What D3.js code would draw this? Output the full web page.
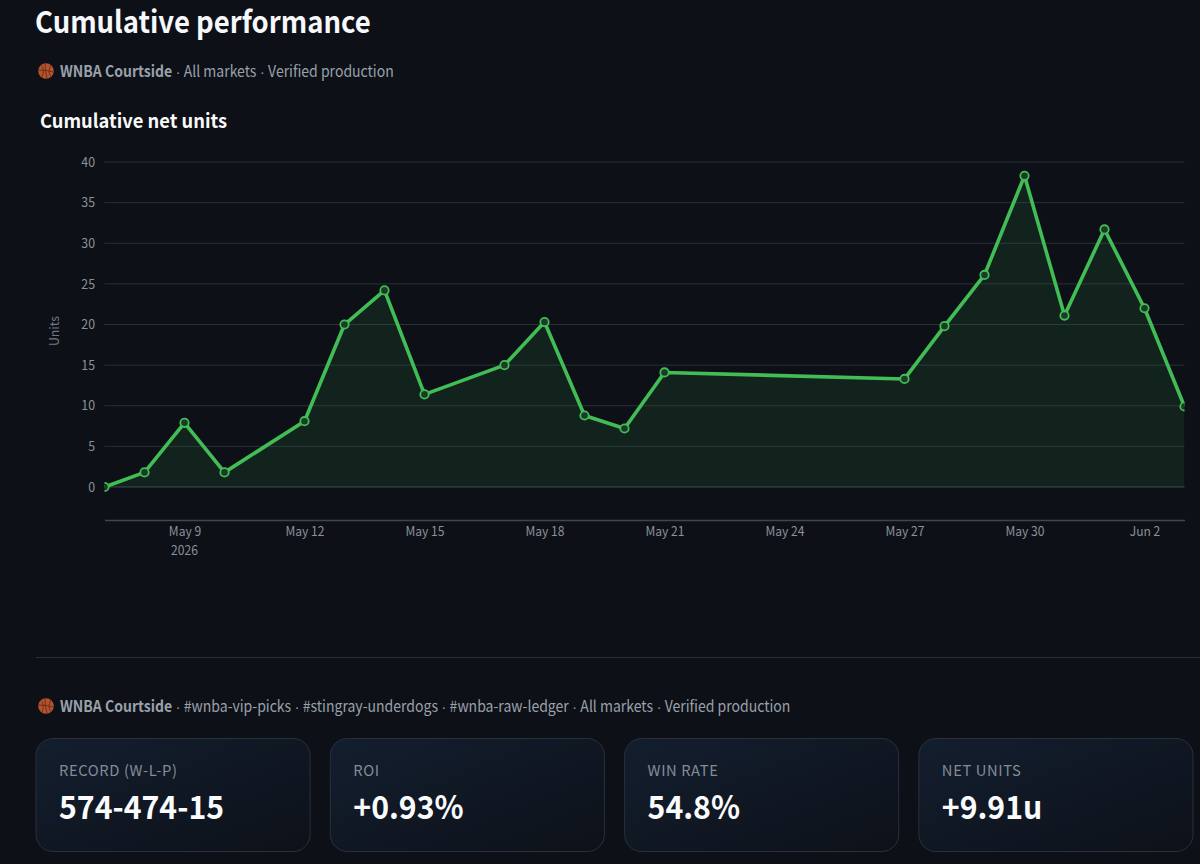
<!DOCTYPE html>
<meta charset="utf-8">
<style>
  html, body { margin: 0; padding: 0; background: #0d1017; overflow: hidden; }
  text { font-family: "Noto Sans CJK SC", "Noto Sans", sans-serif; }
</style>
<script src="https://d3js.org/d3.v7.min.js"></script>
<div id="viz"></div>
<script>
  // chart data
  const dates = ["2026-05-07","2026-05-08","2026-05-09","2026-05-10","2026-05-12","2026-05-13","2026-05-14",
    "2026-05-15","2026-05-17","2026-05-18","2026-05-19","2026-05-20","2026-05-21","2026-05-27","2026-05-28",
    "2026-05-29","2026-05-30","2026-05-31","2026-06-01","2026-06-02","2026-06-03"];
  const units = [0, 1.8, 7.9, 1.8, 8.1, 20, 24.2, 11.4, 15, 20.3, 8.8, 7.2, 14.1, 13.3, 19.8, 26.1, 38.3, 21.1, 31.7, 22, 9.91];
  const yTicks = [0, 5, 10, 15, 20, 25, 30, 35, 40];
  const xTicks = ["2026-05-09","2026-05-12","2026-05-15","2026-05-18","2026-05-21","2026-05-24","2026-05-27","2026-05-30","2026-06-02"];
  const cardLabels = ["RECORD (W-L-P)", "ROI", "WIN RATE", "NET UNITS"];
  const cardValues = ["574-474-15", "+0.93%", "54.8%", "+9.91u"];
  const subParts1 = ["All markets", "Verified production"];
  const subParts2 = ["#wnba-vip-picks", "#stingray-underdogs", "#wnba-raw-ledger", "All markets", "Verified production"];

  const parse = d3.utcParse("%Y-%m-%d");
  const data = dates.map((d, i) => ({date: parse(d), value: units[i]}));

  const svg = d3.select("#viz").append("svg")
    .attr("width", 1200).attr("height", 864)
    .style("display", "block");

  const defs = svg.append("defs");
  defs.append("clipPath").attr("id", "plotClip")
    .append("rect").attr("x", 104.5).attr("y", 150).attr("width", 1080).attr("height", 372);
  const cardGrad = defs.append("linearGradient").attr("id", "cardFill")
    .attr("x1", 0).attr("y1", 0).attr("x2", 1).attr("y2", 1);
  cardGrad.append("stop").attr("offset", "0%").attr("stop-color", "#131e2e");
  cardGrad.append("stop").attr("offset", "100%").attr("stop-color", "#0d1119");

  const x = d3.scaleUtc()
    .domain([parse("2026-05-07"), parse("2026-06-03")])
    .range([104.5, 1184.5]);
  const y = d3.scaleLinear()
    .domain([-4.06, 40])
    .range([520, 162]);

  // the installed font runs wider than the one in the picture, so squeeze it a bit
  function squeezed(px, py, sx) {
    return `translate(${px},${py}) scale(${sx},1)`;
  }

  // basketball icon, the emoji font is not there
  function ball(cx, cy) {
    const g = svg.append("g").attr("transform", `translate(${cx},${cy})`);
    g.append("circle").attr("r", 7.8).attr("fill", "#b5532c");
    g.append("path")
      .attr("d", "M-7.5,-1 Q0,-1 7.5,1 M-1,-7.5 Q-1,0 1,7.5 M-5,-5.5 Q-1,-2 -4,6 M5,-6 Q1,1 5,5.5")
      .attr("fill", "none").attr("stroke", "#5c2a18").attr("stroke-width", 0.8);
  }

  function subtitle(py, parts) {
    const t = svg.append("text").attr("transform", squeezed(60, py, 0.905))
      .attr("font-size", 15.5).attr("fill", "#9aa1ab");
    t.append("tspan").attr("font-weight", 700).text("WNBA Courtside");
    parts.forEach(p => {
      t.append("tspan").style("font-family", '"Liberation Sans"').attr("letter-spacing", -0.3).text("\u00a0·\u00a0");
      t.append("tspan").text(p);
    });
  }

  // headings
  svg.append("text").attr("transform", squeezed(35, 32.5, 0.915))
    .attr("font-size", 30).attr("font-weight", 600).attr("fill", "#f6f8fb")
    .text("Cumulative performance");

  ball(46, 71);
  subtitle(76.5, subParts1);

  svg.append("text").attr("transform", squeezed(40, 127.5, 0.964))
    .attr("font-size", 19).attr("font-weight", 700).attr("fill", "#fafafa")
    .text("Cumulative net units");

  // gridlines and y labels
  svg.append("g").selectAll("line").data(yTicks).join("line")
    .attr("x1", 104.5).attr("x2", 1184.5)
    .attr("y1", d => y(d)).attr("y2", d => y(d))
    .attr("stroke", d => d === 0 ? "#41454d" : "#2a2e36")
    .attr("stroke-width", 1);

  const yAxis = d3.axisLeft(y).tickValues(yTicks).tickSize(0).tickPadding(0);
  svg.append("g").attr("transform", "translate(95,0)").call(yAxis)
    .call(g => g.select(".domain").remove())
    .call(g => g.selectAll("text").attr("font-size", 13).attr("fill", "#8b919b")
      .attr("transform", "scale(0.95,1)")
      .style("font-family", '"Noto Sans CJK SC", sans-serif'));

  svg.append("text")
    .attr("transform", "translate(59,331) rotate(-90) scale(0.95,1)")
    .attr("text-anchor", "middle").attr("font-size", 13).attr("fill", "#737983")
    .text("Units");

  // area + line + points
  const plot = svg.append("g").attr("clip-path", "url(#plotClip)");
  plot.append("path").datum(data)
    .attr("fill", "#3fb950").attr("fill-opacity", 0.11)
    .attr("d", d3.area().x(d => x(d.date)).y0(y(0)).y1(d => y(d.value)));
  plot.append("path").datum(data)
    .attr("fill", "none").attr("stroke", "#42bd55").attr("stroke-width", 3.6)
    .attr("stroke-linejoin", "round")
    .attr("d", d3.line().x(d => x(d.date)).y(d => y(d.value)));
  plot.append("g").selectAll("circle").data(data).join("circle")
    .attr("cx", d => x(d.date)).attr("cy", d => y(d.value)).attr("r", 4.2)
    .attr("fill", "#1b3a27").attr("stroke", "#42bd55").attr("stroke-width", 1.8);

  // x axis
  const xAxis = d3.axisBottom(x).tickValues(xTicks.map(parse))
    .tickSize(0).tickPadding(0)
    .tickFormat(d3.utcFormat("%b %-d"));
  svg.append("g").attr("transform", "translate(0,520)").call(xAxis)
    .call(g => g.select(".domain").attr("stroke", "#41454d").attr("stroke-width", 1.6))
    .call(g => g.selectAll("text").attr("y", 7).attr("font-size", 13).attr("fill", "#8b919b")
      .attr("transform", "scale(0.93,1)")
      .style("font-family", '"Noto Sans CJK SC", sans-serif'));
  svg.append("text").attr("transform", squeezed(x(parse("2026-05-09")), 555, 0.93))
    .attr("text-anchor", "middle").attr("font-size", 13).attr("fill", "#8b919b")
    .text("2026");

  // divider
  svg.append("line").attr("x1", 36).attr("x2", 1200).attr("y1", 657.5).attr("y2", 657.5)
    .attr("stroke", "#2a2e36");

  ball(46, 706);
  subtitle(711.5, subParts2);

  // metric cards
  const cardX = d3.scaleBand().domain(cardLabels).range([36, 1193]).paddingInner(0.0685).paddingOuter(0);
  const cards = svg.append("g").selectAll("g").data(cardLabels).join("g")
    .attr("transform", d => `translate(${cardX(d)},738.5)`);
  cards.append("rect")
    .attr("width", cardX.bandwidth()).attr("height", 113).attr("rx", 17)
    .attr("fill", "url(#cardFill)").attr("stroke", "#2a303a");
  cards.append("text").attr("transform", squeezed(23, 37, 0.985))
    .attr("font-size", 15).attr("letter-spacing", 0.6).attr("fill", "#848b96")
    .text(d => d);
  cards.append("text").attr("transform", squeezed(23, 80, 0.945))
    .attr("font-size", 32).attr("font-weight", 700).attr("fill", "#fafbfd")
    .text((d, i) => cardValues[i]);
</script>
